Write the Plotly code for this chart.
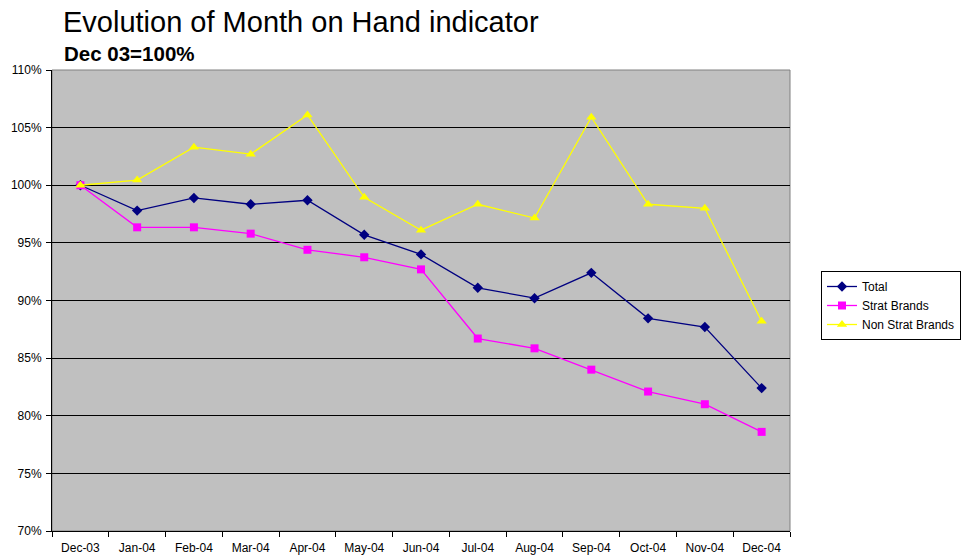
import plotly.graph_objects as go

months = ["Dec-03", "Jan-04", "Feb-04", "Mar-04", "Apr-04", "May-04", "Jun-04",
          "Jul-04", "Aug-04", "Sep-04", "Oct-04", "Nov-04", "Dec-04"]

total = [1.000, 0.978, 0.989, 0.9835, 0.987, 0.957, 0.940, 0.911, 0.902, 0.924, 0.8845, 0.877, 0.824]
strat_brands = [1.000, 0.9635, 0.9635, 0.958, 0.944, 0.9375, 0.927, 0.867, 0.8585, 0.840, 0.821, 0.810, 0.786]
non_strat_brands = [1.000, 1.0045, 1.033, 1.027, 1.061, 0.9895, 0.961, 0.9835, 0.9715, 1.059, 0.9835, 0.980, 0.882]

FONT = "Liberation Sans, Arial, sans-serif"

PLOT_W, PLOT_H = 738, 461
L, T = 52, 70
W, H = 963, 559

fig = go.Figure()

for vals, color, symbol, size, name in [
    (total, "#000080", "diamond", 8, "Total"),
    (strat_brands, "#FF00FF", "square", 8, "Strat Brands"),
    (non_strat_brands, "#FFFF00", "triangle-up", 9, "Non Strat Brands"),
]:
    fig.add_trace(go.Scatter(
        x=months, y=vals, mode="lines+markers", name=name,
        line=dict(color=color, width=1.3),
        marker=dict(symbol=symbol, size=size, color=color),
    ))

fig.update_layout(
    width=W, height=H,
    margin=dict(l=L, r=W - L - PLOT_W, t=T, b=H - T - PLOT_H, autoexpand=False),
    paper_bgcolor="white",
    plot_bgcolor="#C0C0C0",
    font=dict(family=FONT, size=12, color="black"),
    showlegend=True,
    legend=dict(
        x=(821 - L) / PLOT_W, y=(T + PLOT_H - 271) / PLOT_H, xanchor="left", yanchor="top",
        bordercolor="black", borderwidth=1, bgcolor="white",
        font=dict(size=12), itemwidth=30, tracegroupgap=0,
    ),
)

# titles
fig.add_annotation(text="Evolution of Month on Hand indicator",
                   x=(61 - L) / PLOT_W, y=1 + (T - 22) / PLOT_H,
                   xref="paper", yref="paper", xanchor="left", yanchor="middle",
                   showarrow=False, font=dict(size=29, family=FONT, color="black"))
fig.add_annotation(text="<b>Dec 03=100%</b>",
                   x=(62 - L) / PLOT_W, y=1 + (T - 53) / PLOT_H,
                   xref="paper", yref="paper", xanchor="left", yanchor="middle",
                   showarrow=False, font=dict(size=20.5, family=FONT, color="black"))

fig.update_xaxes(
    range=[-0.5, 12.5], showgrid=False, ticks="outside", tickson="boundaries",
    ticklen=5, tickcolor="black", showline=True, linecolor="black", linewidth=1,
    tickfont=dict(size=12), ticklabelstandoff=6, automargin=False, fixedrange=True,
)
fig.update_yaxes(
    range=[0.70, 1.10], dtick=0.05, tickformat=".0%", showgrid=True,
    gridcolor="black", gridwidth=1, ticks="outside", ticklen=5, tickcolor="black",
    showline=True, linecolor="black", linewidth=1, zeroline=False,
    tickfont=dict(size=12), ticklabelstandoff=2, automargin=False, fixedrange=True,
)
# grey plot border on top/right
fig.add_shape(type="rect", xref="paper", yref="paper", x0=0, y0=0, x1=1, y1=1,
              line=dict(color="#808080", width=1), layer="below")

# drop the default 8px page margin so the figure sits at the window's corner
fig.write_html("out.html", config={"displayModeBar": False},
               post_script="document.body.style.margin='0';")
